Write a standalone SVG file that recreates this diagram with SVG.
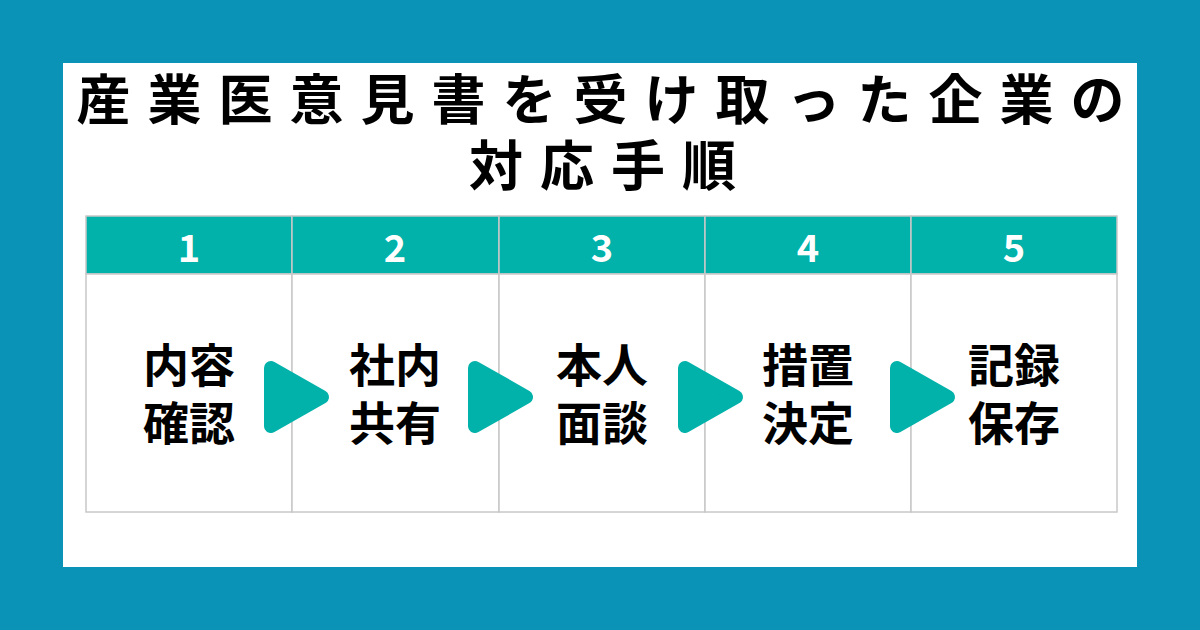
<svg xmlns="http://www.w3.org/2000/svg" width="1200" height="630" viewBox="0 0 1200 630">
<style>
.title{font-family:"Noto Sans CJK JP","Noto Sans CJK SC",sans-serif;font-weight:700;font-size:54px;fill:#000;letter-spacing:17px;text-anchor:middle}
.num{font-family:"Noto Sans CJK JP","Noto Sans",sans-serif;font-weight:700;font-size:38px;fill:#fff;text-anchor:middle}
.lbl{font-family:"Noto Sans CJK JP","Noto Sans CJK SC",sans-serif;font-weight:700;font-size:46px;fill:#000;text-anchor:middle}
.cell{fill:#fff;stroke:#c8c8c8;stroke-width:1.5}
.head{fill:#00b2a9;stroke:#c8c8c8;stroke-width:1.5}
.arrow{fill:#00b2a9;stroke:#00b2a9;stroke-width:14;stroke-linejoin:round}
</style>
<rect width="1200" height="630" fill="#0b93b7"/>
<rect x="63" y="63" width="1074" height="504" fill="#fff"/>
<g id="title">
<text class="title" x="609" y="120">産業医意見書を受け取った企業の</text>
<text class="title" x="611" y="186">対応手順</text>
</g>
<g id="step1">
<rect class="head" x="86" y="216" width="206" height="58"/>
<rect class="cell" x="86" y="274" width="206" height="238"/>
<text class="num" x="189" y="262">1</text>
<text class="lbl" x="189" y="382">内容</text>
<text class="lbl" x="189" y="440">確認</text>
</g>
<g id="step2">
<rect class="head" x="292" y="216" width="207" height="58"/>
<rect class="cell" x="292" y="274" width="207" height="238"/>
<text class="num" x="395" y="262">2</text>
<text class="lbl" x="395" y="382">社内</text>
<text class="lbl" x="395" y="440">共有</text>
</g>
<g id="step3">
<rect class="head" x="499" y="216" width="206" height="58"/>
<rect class="cell" x="499" y="274" width="206" height="238"/>
<text class="num" x="602" y="262">3</text>
<text class="lbl" x="602" y="382">本人</text>
<text class="lbl" x="602" y="440">面談</text>
</g>
<g id="step4">
<rect class="head" x="705" y="216" width="206" height="58"/>
<rect class="cell" x="705" y="274" width="206" height="238"/>
<text class="num" x="808" y="262">4</text>
<text class="lbl" x="808" y="382">措置</text>
<text class="lbl" x="808" y="440">決定</text>
</g>
<g id="step5">
<rect class="head" x="911" y="216" width="206" height="58"/>
<rect class="cell" x="911" y="274" width="206" height="238"/>
<text class="num" x="1014" y="262">5</text>
<text class="lbl" x="1014" y="382">記録</text>
<text class="lbl" x="1014" y="440">保存</text>
</g>
<g id="connectors">
<polygon class="arrow" points="271,368 322,397 271,426"/>
<polygon class="arrow" points="475,368 526,397 475,426"/>
<polygon class="arrow" points="685,368 736,397 685,426"/>
<polygon class="arrow" points="897,368 948,397 897,426"/>
</g>
</svg>
